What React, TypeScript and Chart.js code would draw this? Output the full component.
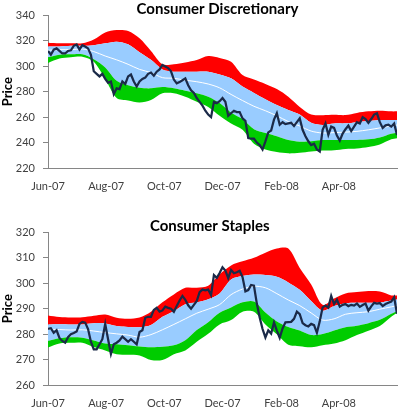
import React, { useEffect, useRef } from "react";
import { Chart, registerables } from "chart.js";

Chart.register(...registerables);

const FONT = "Lato, 'Open Sans', 'DejaVu Sans', sans-serif";

// x values: calendar days since 1 Jun 2007
const priceDays = [
  0, 3, 6, 9, 12, 15, 18, 21, 24, 27, 30, 33, 36, 39, 42, 45, 48, 51, 54, 57,
  60, 63, 66, 69, 72, 75, 78, 81, 84, 87, 90, 93, 96, 99, 102, 105, 108, 111, 114, 117,
  120, 123, 126, 129, 132, 135, 138, 141, 144, 147, 150, 153, 156, 159, 162, 165, 168, 171, 174, 177,
  180, 183, 186, 189, 192, 195, 198, 201, 204, 207, 210, 213, 216, 219, 222, 225, 228, 231, 234, 237,
  240, 243, 246, 249, 252, 255, 258, 261, 264, 267, 270, 273, 276, 279, 282, 285, 288, 291, 294, 297,
  300, 303, 306, 309, 312, 315, 318, 321, 324, 327, 330, 333, 336, 339, 342, 345, 348, 351, 354, 357,
  360, 363, 366,
];
const bandDays = [
  0, 12, 24, 36, 48, 60, 72, 84, 96, 108, 120, 132, 144, 156, 168, 180,
  192, 204, 216, 228, 240, 252, 264, 276, 288, 300, 312, 324, 336, 348, 360, 366,
];
const tickDays = [0, 61, 122, 183, 245, 305];
const tickLabels = ["Jun-07", "Aug-07", "Oct-07", "Dec-07", "Feb-08", "Apr-08"];

// Consumer Discretionary
const cdPrice = [
  312, 309, 313, 314, 312, 310, 310, 312, 312.5, 316,
  317, 313, 316.5, 315.5, 314, 309, 296, 294, 292, 294,
  290, 287, 288, 278, 282.6, 282, 288, 286, 292, 293.5,
  288, 284, 288, 290, 291, 294, 295, 292.5, 295.7, 297.5,
  301, 299.8, 298.5, 296, 289.5, 286.5, 287.5, 289, 290.4, 285,
  281, 279, 275, 272, 269, 265, 262, 260, 272, 271,
  272.5, 275, 272, 261, 263, 265, 264, 264, 259, 257,
  243.5, 243, 243, 240, 238, 234.5, 241, 248, 249.5, 258,
  263, 254, 256, 254.5, 255, 255.5, 253, 256, 259, 250,
  245, 241, 238, 239, 234.5, 233, 250, 255, 246, 252.5,
  251.5, 245.5, 241.5, 247, 250.5, 253.3, 249, 252.5, 256, 255,
  260, 258.5, 255.5, 258.5, 262, 263, 256, 251.5, 253.5, 254,
  252.5, 255, 246,
];
const cdUpper2 = [
  318.5, 318, 318, 318, 321, 326.5, 328.4, 327.7, 322, 312,
  301.5, 301.5, 303, 304.9, 308, 306.5, 303.5, 293, 289.5, 286,
  282, 276, 268, 262, 261.5, 261.8, 261.6, 263.3, 264.5, 265,
  264.5, 264.5,
];
const cdUpper1 = [
  315.5, 315.5, 316, 316, 316.5, 318, 319.3, 317.2, 311, 305,
  297.5, 295.7, 295.7, 295.7, 295.7, 293.5, 290.5, 284, 279, 274,
  269.5, 265.6, 262, 255.5, 253.8, 255, 255.1, 256, 257, 257.7,
  257.7, 257.7,
];
const cdMid = [
  312.5, 313, 313, 313.5, 311.5, 308, 305, 301.5, 297.5, 295,
  291, 290.5, 289, 287.8, 286, 283, 277.8, 273, 268.5, 265,
  261, 256.5, 253, 249, 247.5, 247.8, 248.2, 248.8, 250, 251.5,
  253, 253.8,
];
const cdLower1 = [
  307, 309, 309.3, 309.3, 305.5, 299, 288.5, 285, 283, 282.6,
  283.6, 282.6, 280.7, 278.7, 276, 271, 263.5, 258.5, 250.5, 247.5,
  245, 242, 240.7, 241, 242, 242, 242, 242, 242.5, 244,
  247, 247.5,
];
const cdLower2 = [
  302.5, 306, 307, 307.5, 303.5, 290, 275, 273, 271.5, 273.4,
  278.7, 278.7, 276, 272.1, 268, 261, 255, 250, 239, 234.5,
  232.5, 231.5, 232, 233, 233.7, 234, 235, 235.4, 236.5, 238.5,
  242.5, 243.3,
];

// Consumer Staples
const csPrice = [
  282, 282.3, 280.5, 281.5, 278.5, 277.3, 276.6, 278.8, 280, 280.4,
  281, 284, 284.8, 284.5, 282, 277, 274, 274, 276, 278,
  284, 278, 272.2, 276, 276.6, 277.5, 279, 278, 277, 278,
  277, 276, 280.8, 281.5, 286.4, 286.8, 286.8, 289.5, 290.3, 288.8,
  289.3, 290.8, 290.3, 290, 288.8, 291, 293.2, 295, 293.5, 291.3,
  290, 291.5, 293, 296.5, 297.5, 297.2, 297.5, 295.3, 303.2, 302.1,
  304, 306.3, 305, 302, 305.2, 303.9, 304.3, 304.9, 302.4, 296.8,
  297.3, 299.3, 299, 292, 286.5, 282, 278.7, 281.5, 280.2, 284.6,
  281.4, 278.5, 282.2, 284.6, 284.7, 284.8, 286, 288.8, 287.8, 284.3,
  283.5, 283, 284, 283.5, 280.5, 285, 290.5, 291.2, 290.4, 295,
  291.8, 293.5, 290.8, 291.5, 291.8, 291, 291.5, 291.2, 292, 290.7,
  291.4, 292, 289.2, 290.9, 292.3, 292, 292.2, 291, 291.8, 292.3,
  292.8, 294.5, 288,
];
const csUpper2 = [
  287.3, 286.7, 286.5, 286.6, 287.2, 287.7, 286.4, 286, 286.5, 288.8,
  292.5, 295.6, 298.2, 298.2, 299, 303.5, 307, 308.6, 310, 312,
  313.6, 313.6, 306, 299.5, 291.5, 294, 296, 296.5, 296.9, 296.7,
  295.2, 295.2,
];
const csUpper1 = [
  283.8, 283.9, 283.8, 283.8, 284.3, 284.2, 283.2, 282.8, 282.7, 283.6,
  286.8, 289, 291.7, 292.5, 293.7, 296, 301.5, 302.8, 303.4, 303.2,
  302.5, 300.3, 297.4, 293, 289.2, 291, 292.1, 292.3, 292.3, 292.4,
  293.2, 293.6,
];
const csMid = [
  281.9, 281.8, 281.6, 281.7, 281.2, 280.6, 280.1, 279.6, 278.8, 279.8,
  281.7, 283.8, 286, 288.2, 289.8, 291.6, 295.5, 297.7, 298.8, 298.2,
  295.9, 293.4, 291.2, 288.3, 285.5, 286, 287.8, 288.4, 288.8, 289.8,
  290.7, 291.2,
];
const csLower1 = [
  277.3, 278.4, 278.8, 278.6, 277.5, 276.3, 276, 275.6, 275.1, 274.8,
  275, 275.6, 277.6, 281.6, 284.7, 288.4, 290.5, 292.5, 292.8, 288.5,
  285, 282.8, 281.4, 279.6, 280, 281.4, 282.7, 283.3, 284.3, 285.6,
  288, 289,
];
const csLower2 = [
  274.7, 276.3, 276.6, 276.6, 274.9, 273.6, 272.1, 271.9, 271.6, 269.8,
  269.8, 272.1, 273.6, 277, 280.1, 283.8, 285.5, 288.8, 288.8, 283.8,
  279.9, 275.8, 275.2, 274.8, 275.6, 276.3, 277.6, 279.6, 281.3, 283.2,
  286.8, 288.4,
];

type Panel = {
  title: string;
  titleX: number;
  titleY: number;
  yMin: number;
  yMax: number;
  yStep: number;
  price: number[];
  upper2: number[];
  upper1: number[];
  mid: number[];
  lower1: number[];
  lower2: number[];
};

const panels: Panel[] = [
  {
    title: "Consumer Discretionary",
    titleX: 217.5,
    titleY: 9.5,
    yMin: 220,
    yMax: 340,
    yStep: 20,
    price: cdPrice,
    upper2: cdUpper2,
    upper1: cdUpper1,
    mid: cdMid,
    lower1: cdLower1,
    lower2: cdLower2,
  },
  {
    title: "Consumer Staples",
    titleX: 209.7,
    titleY: 9.5,
    yMin: 260,
    yMax: 320,
    yStep: 10,
    price: csPrice,
    upper2: csUpper2,
    upper1: csUpper1,
    mid: csMid,
    lower1: csLower1,
    lower2: csLower2,
  },
];

const titlePlugin = {
  id: "panelTitle",
  afterDraw(chart: any, _args: any, opts: any) {
    const ctx = chart.ctx;
    ctx.save();
    ctx.font = `bold 15px ${FONT}`;
    ctx.fillStyle = "#000000";
    ctx.textAlign = "center";
    ctx.textBaseline = "middle";
    ctx.fillText(opts.text, opts.x, opts.y);
    ctx.restore();
  },
};

const pts = (xs: number[], ys: number[]) => ys.map((y, i) => ({ x: xs[i], y }));

function makeConfig(p: Panel): any {
  const band = (data: number[], color: string, fill: any, order: number) => ({
    data: pts(bandDays, data),
    borderColor: "rgba(0,0,0,0)",
    borderWidth: 0,
    backgroundColor: color,
    fill,
    pointRadius: 0,
    tension: 0.3,
    order,
  });
  return {
    type: "line",
    data: {
      datasets: [
        band(p.upper2, "#FF0000", "+1", 5),
        band(p.upper1, "#99CCFF", "+1", 4),
        band(p.lower1, "#00CC00", "+1", 3),
        band(p.lower2, "rgba(0,0,0,0)", false, 2),
        {
          data: pts(bandDays, p.mid),
          borderColor: "#FFFFFF",
          borderWidth: 1,
          pointRadius: 0,
          fill: false,
          tension: 0.3,
          order: 1,
        },
        {
          data: pts(priceDays, p.price),
          borderColor: "#1B2A48",
          borderWidth: 2.25,
          pointRadius: 0,
          fill: false,
          tension: 0,
          order: 0,
        },
      ],
    },
    options: {
      animation: false,
      responsive: false,
      events: [],
      layout: { padding: { top: 15.3, right: 3, left: 0, bottom: 0 } },
      plugins: {
        legend: { display: false },
        tooltip: { enabled: false },
        title: { display: false },
        panelTitle: { text: p.title, x: p.titleX, y: p.titleY },
      },
      scales: {
        x: {
          type: "linear",
          min: 0,
          max: 366,
          afterBuildTicks: (s: any) => {
            s.ticks = tickDays.map((v) => ({ value: v }));
          },
          afterFit: (s: any) => {
            s.height = 29;
          },
          grid: { display: true, drawOnChartArea: false, drawTicks: false },
          border: { display: true, color: "#868686", width: 1 },
          ticks: {
            autoSkip: false,
            maxRotation: 0,
            padding: 12,
            color: "#404040",
            font: { family: FONT, size: 11 },
            callback: (v: any) => {
              const i = tickDays.indexOf(Number(v));
              return i >= 0 ? tickLabels[i] : "";
            },
          },
        },
        y: {
          min: p.yMin,
          max: p.yMax,
          afterFit: (s: any) => {
            s.width = 48;
          },
          grid: {
            display: true,
            drawOnChartArea: false,
            drawTicks: true,
            tickLength: 5,
            color: "#868686",
          },
          border: { display: true, color: "#868686", width: 1 },
          ticks: {
            stepSize: p.yStep,
            padding: 8,
            color: "#404040",
            font: { family: FONT, size: 11 },
          },
          title: {
            display: true,
            text: "Price",
            color: "#000000",
            font: { family: FONT, size: 13, weight: "bold" },
            padding: { top: 0, bottom: 0 },
          },
        },
      },
    },
    plugins: [titlePlugin],
  };
}

export default function App() {
  const topRef = useRef<HTMLCanvasElement | null>(null);
  const botRef = useRef<HTMLCanvasElement | null>(null);

  useEffect(() => {
    const charts: Chart[] = [];
    if (topRef.current) charts.push(new Chart(topRef.current, makeConfig(panels[0])));
    if (botRef.current) charts.push(new Chart(botRef.current, makeConfig(panels[1])));
    return () => {
      charts.forEach((c) => c.destroy());
    };
  }, []);

  return (
    <div
      style={{
        position: "fixed",
        left: 0,
        top: 0,
        width: 400,
        height: 414,
        background: "#ffffff",
      }}
    >
      <canvas
        ref={topRef}
        width={400}
        height={197}
        style={{ position: "absolute", left: 0, top: 0 }}
      />
      <canvas
        ref={botRef}
        width={400}
        height={197}
        style={{ position: "absolute", left: 0, top: 217 }}
      />
    </div>
  );
}
